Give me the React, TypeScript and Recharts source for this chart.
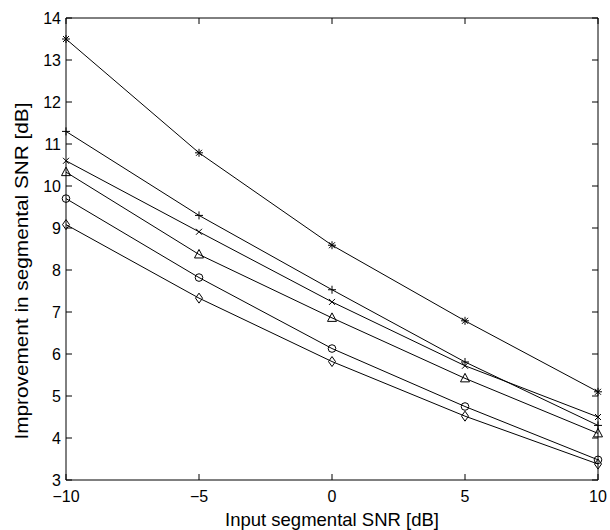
import { Line, LineChart, XAxis, YAxis } from "recharts";

const snr = [-10, -5, 0, 5, 10];
const asterisk = [13.5, 10.79, 8.59, 6.79, 5.1];
const plus = [11.3, 9.3, 7.53, 5.81, 4.3];
const cross = [10.6, 8.91, 7.24, 5.72, 4.5];
const triangle = [10.33, 8.37, 6.86, 5.42, 4.11];
const circle = [9.7, 7.82, 6.13, 4.75, 3.48];
const diamond = [9.08, 7.33, 5.82, 4.52, 3.38];

const xTicks = [-10, -5, 0, 5, 10];
const yTicks = [3, 4, 5, 6, 7, 8, 9, 10, 11, 12, 13, 14];

const data = snr.map((x, i) => ({
  snr: x,
  asterisk: asterisk[i],
  plus: plus[i],
  cross: cross[i],
  triangle: triangle[i],
  circle: circle[i],
  diamond: diamond[i],
}));

const FONT = "'Liberation Sans', Arial, Helvetica, sans-serif";
const fmt = (v: number) => (v < 0 ? "\u2212" + Math.abs(v) : String(v));
const TL = 6;

const mk = (shape: string) => (p: any) => {
  const { cx, cy, index } = p;
  const k = shape + index;
  const s = { stroke: "#000", strokeWidth: 1, fill: "none" };
  if (shape === "asterisk")
    return (
      <path
        key={k}
        {...s}
        d={`M${cx - 4},${cy}H${cx + 4}M${cx},${cy - 4}V${cy + 4}M${cx - 3},${cy - 3}L${cx + 3},${cy + 3}M${cx - 3},${cy + 3}L${cx + 3},${cy - 3}`}
      />
    );
  if (shape === "plus")
    return <path key={k} {...s} d={`M${cx - 4},${cy}H${cx + 4}M${cx},${cy - 4}V${cy + 4}`} />;
  if (shape === "cross")
    return <path key={k} {...s} d={`M${cx - 3},${cy - 3}L${cx + 3},${cy + 3}M${cx - 3},${cy + 3}L${cx + 3},${cy - 3}`} />;
  if (shape === "triangle")
    return <path key={k} {...s} d={`M${cx},${cy - 5}L${cx + 4.5},${cy + 3.5}L${cx - 4.5},${cy + 3.5}Z`} />;
  if (shape === "circle") return <circle key={k} {...s} cx={cx} cy={cy} r={3.8} />;
  return <path key={k} {...s} d={`M${cx},${cy - 5}L${cx + 3.5},${cy}L${cx},${cy + 5}L${cx - 3.5},${cy}Z`} />;
};

// matlab style: tick marks point into the plot box
const BottomTick = (p: any) => (
  <g>
    <path d={`M${p.x},${p.y}V${p.y - TL}`} stroke="#000" strokeWidth={1} fill="none" />
    <text x={p.x} y={p.y + 22} textAnchor="middle" fontSize={16} fontFamily={FONT} fill="#000">
      {fmt(p.payload.value)}
    </text>
  </g>
);
const TopTick = (p: any) => <path d={`M${p.x},${p.y}V${p.y + TL}`} stroke="#000" strokeWidth={1} fill="none" />;
const LeftTick = (p: any) => (
  <g>
    <path d={`M${p.x},${p.y}H${p.x + TL}`} stroke="#000" strokeWidth={1} fill="none" />
    <text x={p.x - 5} y={p.y + 6} textAnchor="end" fontSize={16} fontFamily={FONT} fill="#000">
      {fmt(p.payload.value)}
    </text>
  </g>
);
const RightTick = (p: any) => <path d={`M${p.x},${p.y}H${p.x - TL}`} stroke="#000" strokeWidth={1} fill="none" />;

const series = ["asterisk", "plus", "cross", "triangle", "circle", "diamond"];

export default function App() {
  return (
    <div style={{ position: "absolute", left: 0, top: 0, background: "#fff" }}>
      <LineChart width={610} height={530} data={data} margin={{ top: 17, right: 11, bottom: 0, left: 0 }}>
        <XAxis
          dataKey="snr"
          type="number"
          domain={[-10, 10]}
          ticks={xTicks}
          height={50}
          tickSize={0}
          tickMargin={0}
          tick={BottomTick}
          tickLine={false}
          axisLine={{ stroke: "#000" }}
          label={{
            content: () => (
              <text x={332} y={526} textAnchor="middle" fontSize={18.5} fontFamily={FONT} fill="#000">
                Input segmental SNR [dB]
              </text>
            ),
          }}
        />
        <XAxis
          xAxisId="top"
          dataKey="snr"
          orientation="top"
          type="number"
          domain={[-10, 10]}
          ticks={xTicks}
          height={1}
          tickSize={0}
          tickMargin={0}
          tick={TopTick}
          tickLine={false}
          axisLine={{ stroke: "#000" }}
        />
        <YAxis
          type="number"
          domain={[3, 14]}
          ticks={yTicks}
          width={66}
          tickSize={0}
          tickMargin={0}
          tick={LeftTick}
          tickLine={false}
          axisLine={{ stroke: "#000" }}
          label={{
            content: () => (
              <text
                x={28}
                y={271}
                transform="rotate(-90, 28, 271)"
                textAnchor="middle"
                fontSize={19}
                textLength={337}
                lengthAdjust="spacingAndGlyphs"
                fontFamily={FONT}
                fill="#000"
              >
                Improvement in segmental SNR [dB]
              </text>
            ),
          }}
        />
        <YAxis
          yAxisId="r"
          orientation="right"
          type="number"
          domain={[3, 14]}
          ticks={yTicks}
          width={1}
          tickSize={0}
          tickMargin={0}
          tick={RightTick}
          tickLine={false}
          axisLine={{ stroke: "#000" }}
        />
        <Line
          xAxisId="top"
          yAxisId="r"
          dataKey="asterisk"
          stroke="none"
          dot={false}
          activeDot={false}
          legendType="none"
          isAnimationActive={false}
        />
        {series.map((s) => (
          <Line
            key={s}
            dataKey={s}
            type="linear"
            stroke="#000"
            strokeWidth={1}
            dot={mk(s)}
            activeDot={false}
            isAnimationActive={false}
          />
        ))}
      </LineChart>
    </div>
  );
}
